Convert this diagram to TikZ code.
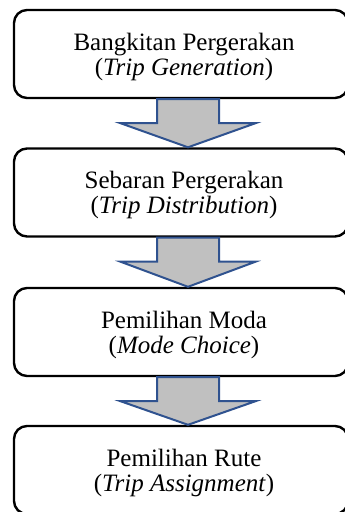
\documentclass[tikz,border=0pt]{standalone}
\usepackage{fontspec}
\setmainfont{Liberation Serif}
\usetikzlibrary{calc}
\definecolor{arrowfill}{RGB}{192,192,192}
\definecolor{arrowline}{RGB}{47,82,143}
\tikzset{
  stagebox/.style={draw=black, line width=2.4pt, rounded corners=13pt,
    minimum width=334pt, minimum height=88pt, inner sep=0pt},
  stagetext/.style={font=\fontsize{25pt}{25pt}\selectfont, align=center, xshift=3pt, yshift=-2.5pt},
  blockarrow/.style={fill=arrowfill, draw=arrowline, line width=2pt, line join=miter}
}
\newcommand{\blockarrowdraw}[2]{%
  \path let \p1=(#1), \p2=(#2) in
    [blockarrow] (\x1-31pt,\y1) -- (\x1+31pt,\y1) -- (\x1+31pt,\y1-24pt)
    -- (\x1+67.5pt,\y1-24pt) -- (\x1,\y2) -- (\x1-67.5pt,\y1-24pt)
    -- (\x1-31pt,\y1-24pt) -- cycle;}
\begin{document}
\begin{tikzpicture}[x=1pt,y=-1pt]
\useasboundingbox (0,0) rectangle (345,512);
\node[stagebox, label={[stagetext]center:Bangkitan Pergerakan\\(\textit{Trip Generation})}] (b1) at (181,54) {};
\node[stagebox, label={[stagetext]center:Sebaran Pergerakan\\(\textit{Trip Distribution})}] (b2) at (181,192.5) {};
\node[stagebox, label={[stagetext]center:Pemilihan Moda\\(\textit{Mode Choice})}] (b3) at (181,332) {};
\node[stagebox, label={[stagetext]center:Pemilihan Rute\\(\textit{Trip Assignment})}] (b4) at (181,470) {};
\coordinate (a1s) at (b1.south -| 188,0);
\coordinate (a1e) at (b2.north -| 188,0);
\coordinate (a2s) at (b2.south -| 188,0);
\coordinate (a2e) at (b3.north -| 188,0);
\coordinate (a3s) at (b3.south -| 188,0);
\coordinate (a3e) at (b4.north -| 188,0);
\blockarrowdraw{a1s}{a1e}
\blockarrowdraw{a2s}{a2e}
\blockarrowdraw{a3s}{a3e}
\end{tikzpicture}
\end{document}
